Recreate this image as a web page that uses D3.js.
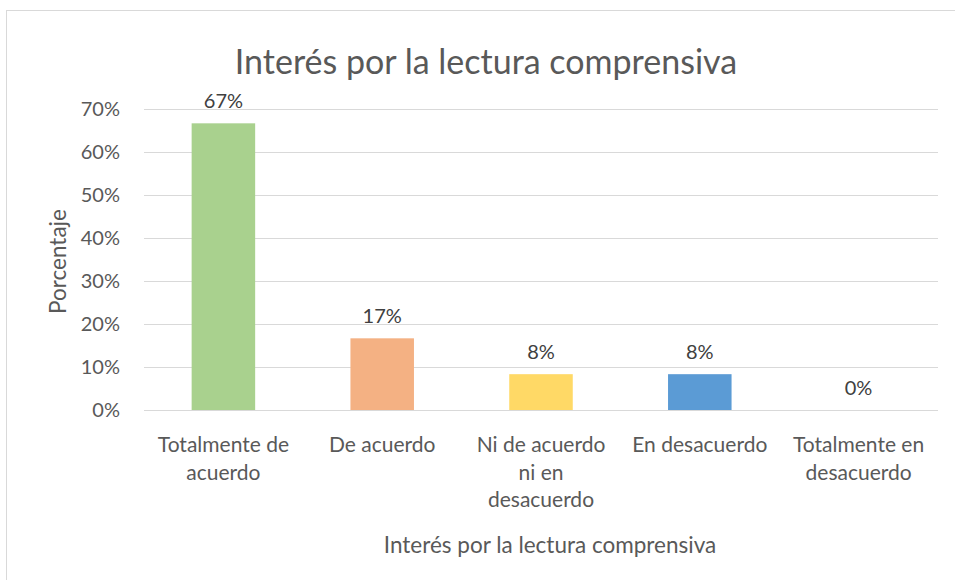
<!DOCTYPE html>
<html><head><meta charset="utf-8">
<script src="https://cdn.jsdelivr.net/npm/d3@7"></script>
<style>
html,body{margin:0;padding:0;background:#fff;}
svg{display:block;font-family:Lato,"Open Sans",sans-serif;}
</style></head>
<body><svg id="chart" width="955" height="580"></svg>
<script>
const categories = [["Totalmente de","acuerdo"],["De acuerdo"],["Ni de acuerdo","ni en","desacuerdo"],["En desacuerdo"],["Totalmente en","desacuerdo"]];
const values = [0.6667, 0.1667, 0.0833, 0.0833, 0];
const labels = ["67%","17%","8%","8%","0%"];
const colors = ["#a9d18e","#f4b183","#ffd966","#5b9bd5","#a5a5a5"];
const yTicks = [0,0.1,0.2,0.3,0.4,0.5,0.6,0.7];
const title = "Interés por la lectura comprensiva";
const xTitle = "Interés por la lectura comprensiva";
const yTitle = "Porcentaje";

(function(){
const svg = d3.select("#chart");
const txt = "#595959";
svg.append("rect").attr("x",6.5).attr("y",10.5).attr("width",1000).attr("height",700)
  .attr("fill","#fff").attr("stroke","#d9d9d9").attr("stroke-width",1);

const pl=144, pr=938, pt=109, pb=410;
const x = d3.scaleBand().domain(d3.range(categories.length)).range([pl,pr]).paddingInner(0.6).paddingOuter(0.3);
const y = d3.scaleLinear().domain([0,0.7]).range([pb,pt]);

svg.append("g").selectAll("line").data(yTicks).join("line")
  .attr("x1",pl).attr("x2",pr).attr("y1",d=>Math.round(y(d))+0.5).attr("y2",d=>Math.round(y(d))+0.5)
  .attr("stroke","#d9d9d9").attr("stroke-width",1);

const yAxis = d3.axisLeft(y).tickValues(yTicks).tickFormat(d3.format(".0%")).tickSize(0).tickPadding(24);
const ga = svg.append("g").attr("transform",`translate(${pl},0)`).call(yAxis);
ga.select(".domain").remove();
ga.selectAll("text").attr("fill",txt).attr("font-size",20).attr("font-family","Lato");

svg.append("g").selectAll("rect").data(values).join("rect")
  .attr("x",(d,i)=>x(i)).attr("width",x.bandwidth())
  .attr("y",d=>y(d)).attr("height",d=>pb-y(d))
  .attr("fill",(d,i)=>colors[i]);

svg.append("g").selectAll("text").data(values).join("text")
  .attr("x",(d,i)=>x(i)+x.bandwidth()/2).attr("y",d=>y(d)-15)
  .attr("text-anchor","middle").attr("fill","#404040").attr("font-size",20)
  .text((d,i)=>labels[i]);

const xl = svg.append("g").selectAll("text").data(categories).join("text")
  .attr("x",(d,i)=>x(i)+x.bandwidth()/2).attr("y",452)
  .attr("text-anchor","middle").attr("fill",txt).attr("font-size",21);
xl.each(function(d,i){
  const t=d3.select(this);
  d.forEach((line,j)=>t.append("tspan").attr("x",x(i)+x.bandwidth()/2).attr("dy",j?27.5:0).text(line));
});

svg.append("text").attr("x",486).attr("y",74).attr("text-anchor","middle").attr("fill",txt)
  .attr("font-size",34).text(title);
svg.append("text").attr("x",550).attr("y",553).attr("text-anchor","middle").attr("fill",txt)
  .attr("font-size",22.5).text(xTitle);
svg.append("text").attr("transform",`translate(66,${(pt+pb)/2+2}) rotate(-90)`).attr("text-anchor","middle")
  .attr("fill",txt).attr("font-size",22.5).text(yTitle);
})();
</script></body></html>
